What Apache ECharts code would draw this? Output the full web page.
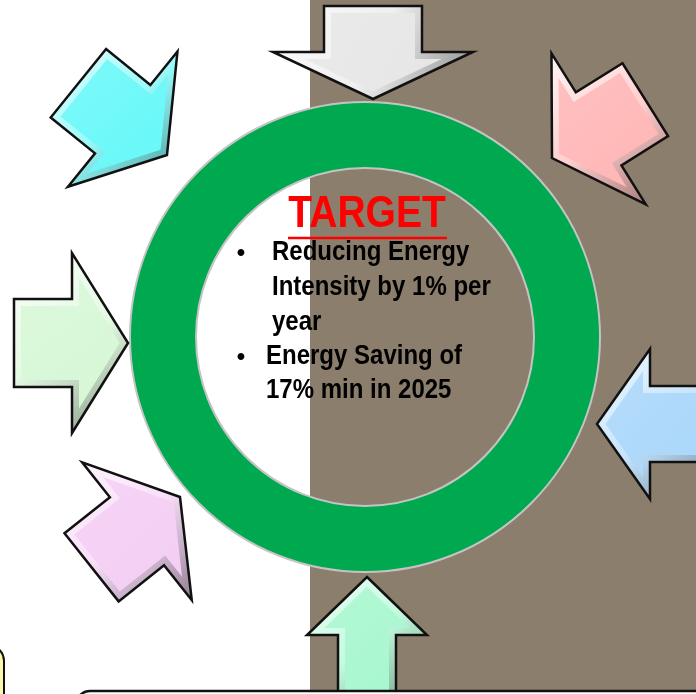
<!DOCTYPE html>
<html>
<head>
<meta charset="utf-8">
<script src="https://cdn.jsdelivr.net/npm/echarts@6/dist/echarts.min.js"></script>
<style>html,body{margin:0;padding:0;background:#fff;}#c{width:696px;height:694px;}</style>
</head>
<body>
<div id="c"></div>
<script>
// ---- data ----
const arrowNames   = ['top', 'topRight', 'right', 'bottom', 'bottomLeft', 'left', 'topLeft'];
const arrowColors  = ['#E6E6E6', '#FFB5B5', '#A8D6FA', '#A6F7CF', '#F4CDF4', '#D6F7D6', '#66F8F8'];
const arrowTipX    = [373, 552, 597, 367, 180, 128, 167];
const arrowTipY    = [99, 158, 424, 577, 497, 343, 155];
const arrowAngle   = [90, 148, 180, -90, -38.5, 0, 39];
const arrowLength  = [93, 110, 130, 130, 113, 114, 114];
const headLength   = [47, 55, 53, 58, 55, 56, 57];
const shaftHalf    = [49, 43, 38, 29, 43.5, 44, 44];
const headHalf     = [100, 89, 75, 60, 88, 90, 87];

const ringValue    = [1];
const titleText    = 'TARGET';
const bullet1Lines = ['Reducing Energy', 'Intensity by 1% per', 'year'];
const bullet2Lines = ['Energy Saving of', '17% min in 2025'];

// ---- helpers ----
function hexToRgb(h){h=h.replace('#','');return [parseInt(h.substr(0,2),16),parseInt(h.substr(2,2),16),parseInt(h.substr(4,2),16)];}
function rgb(a){return 'rgb('+a.map(v=>Math.round(Math.max(0,Math.min(255,v)))).join(',')+')';}
function lighten(h,f){return rgb(hexToRgb(h).map(v=>v+(255-v)*f));}
function darken(h,f){return rgb(hexToRgb(h).map(v=>v*f));}

function arrowLocal(L,H,s,h){
  return [[0,0],[-H,h],[-H,s],[-L,s],[-L,-s],[-H,-s],[-H,-h]];
}
function inset(pts,d){
  let area=0;
  for(let i=0;i<pts.length;i++){const a=pts[i],b=pts[(i+1)%pts.length];area+=a[0]*b[1]-b[0]*a[1];}
  const sg=area>0?1:-1;
  const n=pts.length,out=[];
  for(let i=0;i<n;i++){
    const p0=pts[(i-1+n)%n],p1=pts[i],p2=pts[(i+1)%n];
    let e1=[p1[0]-p0[0],p1[1]-p0[1]],e2=[p2[0]-p1[0],p2[1]-p1[1]];
    const l1=Math.hypot(e1[0],e1[1]),l2=Math.hypot(e2[0],e2[1]);
    const n1=[-e1[1]/l1*sg,e1[0]/l1*sg],n2=[-e2[1]/l2*sg,e2[0]/l2*sg];
    const dot=n1[0]*n2[0]+n1[1]*n2[1];
    const k=d/(1+dot);
    out.push([p1[0]+(n1[0]+n2[0])*k,p1[1]+(n1[1]+n2[1])*k]);
  }
  return out;
}

const arrowData = arrowNames.map((n,i)=>[arrowTipX[i],arrowTipY[i],arrowAngle[i],arrowLength[i],headLength[i],shaftHalf[i],headHalf[i]]);

function renderArrow(params, api){
  const i=params.dataIndex;
  const tx=api.value(0),ty=api.value(1),ang=api.value(2)*Math.PI/180;
  const L=api.value(3),H=api.value(4),s=api.value(5),h=api.value(6);
  const dx=Math.cos(ang),dy=Math.sin(ang),nx=-dy,ny=dx;
  const toData=(p)=>[tx+p[0]*dx+p[1]*nx, ty+p[0]*dy+p[1]*ny];
  const local=arrowLocal(L,H,s,h);
  const outer=local.map(p=>api.coord(toData(p)));
  const inner=inset(outer,7);
  const base=arrowColors[i];
  return {
    type:'group',
    children:[
      {type:'polygon',shape:{points:outer},style:{
        fill:{type:'linear',x:0,y:0,x2:1,y2:1,colorStops:[
          {offset:0,color:lighten(base,0.85)},
          {offset:0.5,color:lighten(base,0.35)},
          {offset:1,color:darken(base,0.6)}]},
        stroke:'#111',lineWidth:2.5,lineJoin:'miter'}},
      {type:'polygon',shape:{points:inner},style:{
        fill:{type:'linear',x:0,y:0,x2:1,y2:1,colorStops:[
          {offset:0,color:lighten(base,0.15)},
          {offset:1,color:base}]}}}
    ]
  };
}

const chart = echarts.init(document.getElementById('c'), null, {renderer:'canvas'});

const textStyleBody = 'bold 24px "Liberation Sans", Arial, sans-serif';
const graphics = [
  {type:'rect', z:0, shape:{x:0,y:0,width:310,height:694}, style:{fill:'#FFFFFF'}},
  {type:'rect', z:0, shape:{x:310,y:0,width:386,height:694}, style:{fill:'#8B7E6C'}},
  {type:'rect', z:50, shape:{x:76,y:691,width:660,height:80,r:14}, style:{fill:'#FFFFFF',stroke:'#111',lineWidth:2.5}},
  {type:'rect', z:50, shape:{x:-40,y:645,width:44,height:120,r:16}, style:{fill:'#FFF6B0',stroke:'#111',lineWidth:2}},
  {type:'text', z:100, x:367, y:215, scaleY:1.15, style:{text:titleText, font:'bold 39px "Liberation Sans", Arial, sans-serif', fill:'#FF0000', textAlign:'center', textVerticalAlign:'middle'}},
  {type:'line', z:100, shape:{x1:288,y1:238,x2:447,y2:238}, style:{stroke:'#FF0000',lineWidth:2.5}},
  {type:'text', z:100, x:241, y:253, style:{text:'•', font:textStyleBody, fill:'#000', textAlign:'center', textVerticalAlign:'middle'}},
  {type:'text', z:100, x:241, y:357, style:{text:'•', font:textStyleBody, fill:'#000', textAlign:'center', textVerticalAlign:'middle'}}
];
bullet1Lines.forEach((t,k)=>graphics.push({type:'text', z:100, x:272, y:253+k*35, scaleY:1.12, style:{text:t, font:textStyleBody, fill:'#000', textAlign:'left', textVerticalAlign:'middle'}}));
bullet2Lines.forEach((t,k)=>graphics.push({type:'text', z:100, x:266, y:357+k*34, scaleY:1.12, style:{text:t, font:textStyleBody, fill:'#000', textAlign:'left', textVerticalAlign:'middle'}}));

chart.setOption({
  animation:false,
  backgroundColor:'#FFFFFF',
  grid:{left:0,right:0,top:0,bottom:0},
  xAxis:{type:'value',min:0,max:696,show:false},
  yAxis:{type:'value',min:0,max:694,inverse:true,show:false},
  graphic:{elements:graphics},
  series:[
    {
      type:'pie', z:3, silent:true,
      center:[365,337], radius:[169,235],
      label:{show:false}, labelLine:{show:false},
      itemStyle:{color:'#00A94F', borderColor:'#C4C4C4', borderWidth:2},
      data:ringValue.map(v=>({value:v,name:'ring'}))
    },
    {
      type:'custom', z:4, silent:true,
      coordinateSystem:'cartesian2d',
      renderItem:renderArrow,
      data:arrowData
    }
  ]
});
</script>
</body>
</html>
